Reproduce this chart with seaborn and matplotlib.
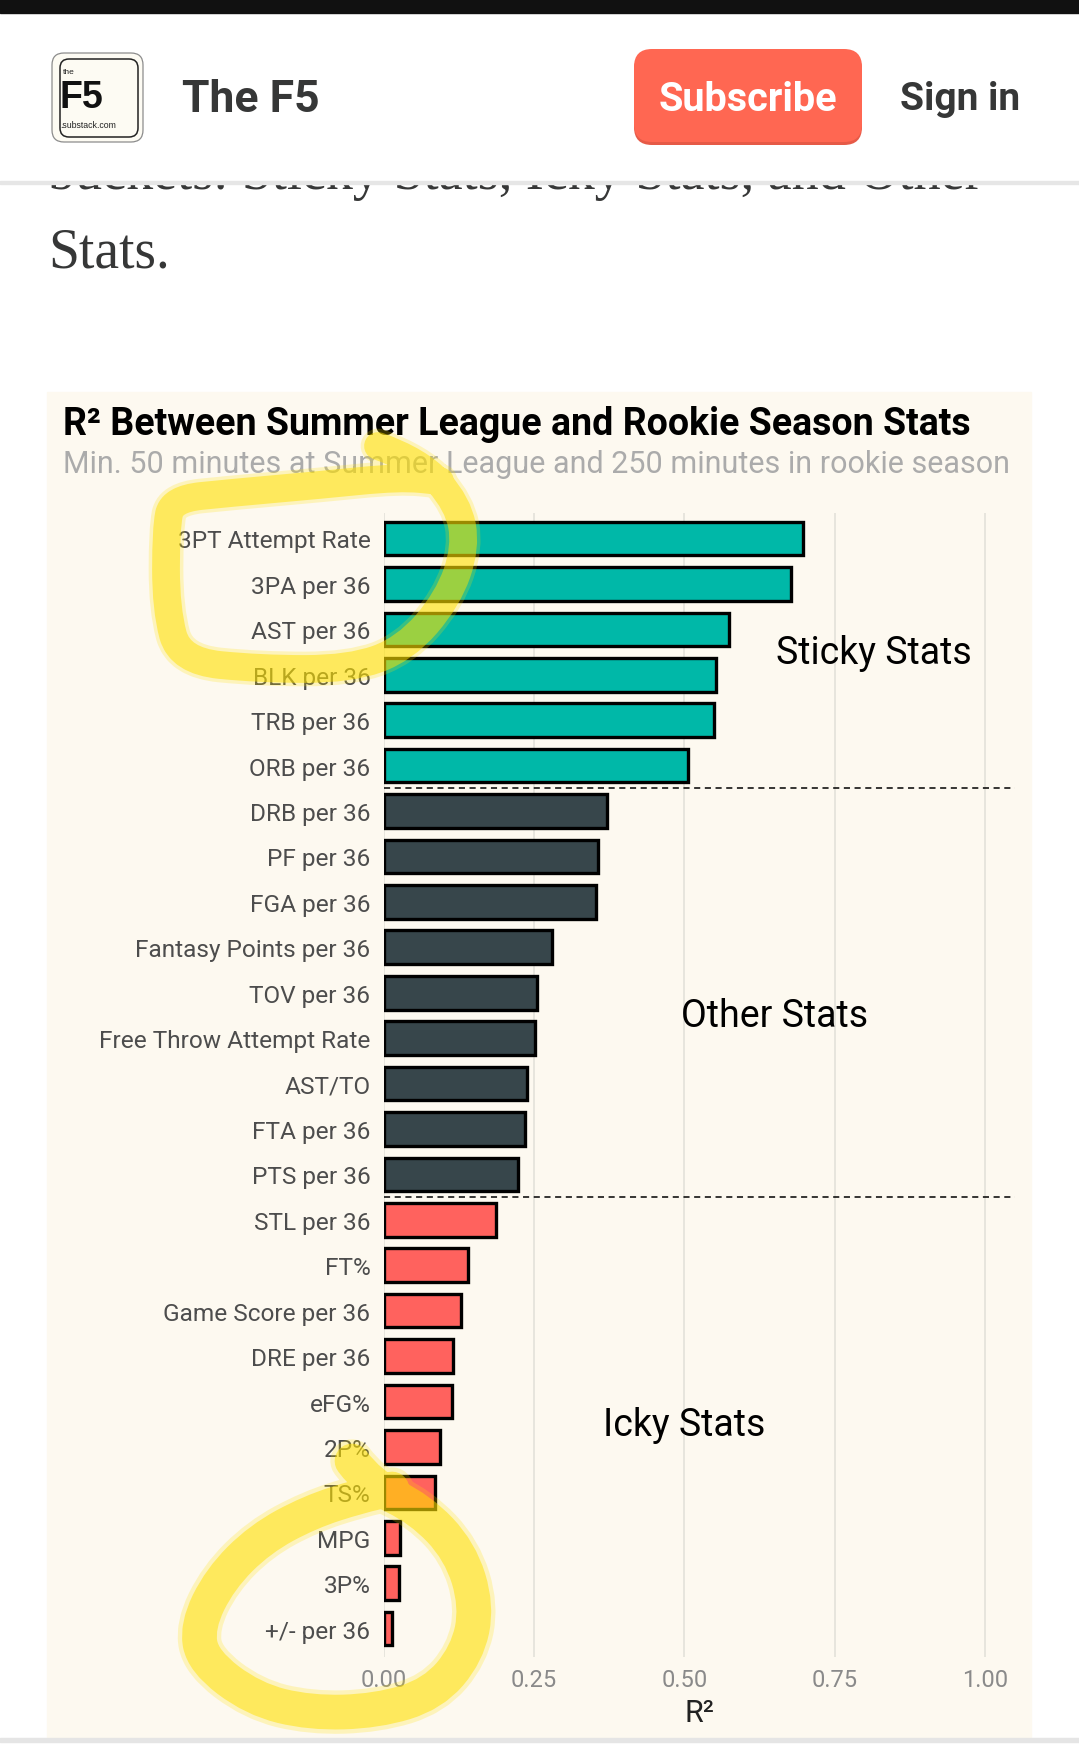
import numpy as np
import pandas as pd
import matplotlib
matplotlib.use('Agg')
import matplotlib.pyplot as plt
import seaborn as sns
from matplotlib.patches import Rectangle, FancyBboxPatch, PathPatch
from matplotlib.path import Path

# data
stats = ['3PT Attempt Rate', '3PA per 36', 'AST per 36', 'BLK per 36', 'TRB per 36',
         'ORB per 36', 'DRB per 36', 'PF per 36', 'FGA per 36', 'Fantasy Points per 36',
         'TOV per 36', 'Free Throw Attempt Rate', 'AST/TO', 'FTA per 36', 'PTS per 36',
         'STL per 36', 'FT%', 'Game Score per 36', 'DRE per 36', 'eFG%', '2P%', 'TS%',
         'MPG', '3P%', '+/- per 36']
r2 = [0.698, 0.678, 0.574, 0.553, 0.550, 0.507, 0.372, 0.357, 0.353, 0.280, 0.255,
      0.251, 0.239, 0.235, 0.224, 0.187, 0.140, 0.129, 0.115, 0.114, 0.094, 0.086,
      0.028, 0.025, 0.014]
groups = ['Sticky'] * 6 + ['Other'] * 9 + ['Icky'] * 10
group_labels = ['Sticky Stats', 'Other Stats', 'Icky Stats']
x_ticks = [0.0, 0.25, 0.5, 0.75, 1.0]

palette = {'Sticky': '#00B8A8', 'Other': '#37464B', 'Icky': '#FF625E'}
cream = '#FDF9F0'

df = pd.DataFrame({'stat': stats, 'r2': r2, 'group': groups})

sns.set_style('white')
plt.rcParams['font.family'] = ['Roboto', 'DejaVu Sans']

W, H = 1079, 1758
fig = plt.figure(figsize=(W / 100, H / 100), dpi=100, facecolor='white')

# page layer in pixel coordinates (y down)
bg = fig.add_axes([0, 0, 1, 1], zorder=0)
bg.set_xlim(0, W)
bg.set_ylim(H, 0)
bg.axis('off')

# article text; the upper line runs under the sticky header
bg.text(48, 189, 'buckets: Sticky Stats, Icky Stats, and Other', fontsize=39,
        family='Liberation Serif', va='baseline', color='#363737', zorder=1)
bg.text(48, 268, 'Stats.', fontsize=40, family='Liberation Serif', va='baseline',
        color='#363737', zorder=1)

# header
bg.add_patch(Rectangle((0, 0), W, 183, color='white', zorder=2))
bg.add_patch(Rectangle((0, 0), W, 14, color='#111111', zorder=3))
bg.add_patch(Rectangle((0, 182), W, 3, color='#E6E6E6', zorder=3))

bg.add_patch(FancyBboxPatch((52, 54), 91, 89, boxstyle='round,pad=0,rounding_size=12',
                            fc='#FDFBF3', ec='#8C8C8C', lw=0.9, zorder=3))
bg.add_patch(FancyBboxPatch((60, 60), 78, 78, boxstyle='round,pad=0,rounding_size=9',
                            fc='none', ec='#222222', lw=1.1, zorder=3))
bg.text(63, 72, 'the', fontsize=6, family='Liberation Sans', va='center', color='#222', zorder=4)
bg.text(60, 108, 'F5', fontsize=27, family='Liberation Sans', weight='bold', va='baseline',
        color='#111', zorder=4)
bg.text(60, 125, '.substack.com', fontsize=6.3, family='Liberation Sans', va='center',
        color='#222', zorder=4)

bg.text(182, 100, 'The F5', fontsize=32, weight='bold', va='center', color='#363737', zorder=4)

bg.add_patch(FancyBboxPatch((634, 53), 228, 93, boxstyle='round,pad=0,rounding_size=18',
                            fc='#E65A47', ec='none', zorder=3))
bg.add_patch(FancyBboxPatch((634, 50), 228, 93, boxstyle='round,pad=0,rounding_size=18',
                            fc='#FF6752', ec='none', zorder=3))
bg.text(748, 100, 'Subscribe', fontsize=28.5, weight='bold', ha='center', va='center',
        color='white', zorder=4)
bg.text(900, 100, 'Sign in', fontsize=28, weight='bold', va='center', color='#363737', zorder=4)

# chart panel
bg.add_patch(Rectangle((47, 393), 984, 1346, color=cream, zorder=1))
bg.add_patch(Rectangle((0, 1739), W, 4, color='#E5E5E5', zorder=1))

bg.text(63, 435, 'R\u00b2 Between Summer League and Rookie Season Stats', fontsize=27,
        weight='bold', va='baseline', color='black', zorder=2)
bg.text(63, 473, 'Min. 50 minutes at Summer League and 250 minutes in rookie season',
        fontsize=22, va='baseline', color='#ABABAB', zorder=2)

# bar chart
ax = fig.add_axes([383.6 / W, 1 - 1657.8 / H, (1015 - 383.6) / W, (1657.8 - 513.7) / H], zorder=1)
ax.set_facecolor('none')
sns.barplot(data=df, x='r2', y='stat', hue='group', palette=palette, dodge=False,
            saturation=1, edgecolor='black', linewidth=2.4, width=0.74, legend=False,
            ax=ax, zorder=3)

ax.set_xlim(0, 1.05)
ax.set_ylim(24.62, -0.568)
ax.set_xticks(x_ticks)
ax.set_xticklabels(['%.2f' % t for t in x_ticks])
ax.xaxis.grid(True, color='#E5E3DC', lw=1.3, zorder=0)
ax.yaxis.grid(False)
ax.set_axisbelow(True)
for s in ax.spines.values():
    s.set_visible(False)
ax.tick_params(axis='y', length=0, pad=9.5, labelsize=17.6, labelcolor='#4D4D4D')
ax.tick_params(axis='x', length=0, pad=8, labelsize=17, labelcolor='#8A8A8A')
ax.set_ylabel('')
ax.set_xlabel('R\u00b2', fontsize=22, color='#222222', labelpad=5)

for yv in [5.5, 14.5]:
    ax.axhline(yv, color='black', lw=1.1, dashes=(4, 3), zorder=4)

ax.text(0.815, 2.5, group_labels[0], fontsize=27, ha='center', va='center', color='black')
ax.text(0.65, 10.5, group_labels[1], fontsize=27, ha='center', va='center', color='black')
ax.text(0.50, 19.5, group_labels[2], fontsize=27, ha='center', va='center', color='black')

# yellow highlighter marks on top of everything
hl = fig.add_axes([0, 0, 1, 1], zorder=5)
hl.set_xlim(0, W)
hl.set_ylim(H, 0)
hl.axis('off')
hl.patch.set_alpha(0)


def stroke(pts, lw):
    pts = np.asarray(pts, float)
    verts = [pts[0]]
    codes = [Path.MOVETO]
    for i in range(1, len(pts) - 1):
        mid = (pts[i] + pts[i + 1]) / 2
        verts += [pts[i], mid]
        codes += [Path.CURVE3, Path.CURVE3]
    verts.append(pts[-1])
    codes.append(Path.LINETO)
    path = Path(verts, codes)
    # soft edge, then the core of the pen
    hl.add_patch(PathPatch(path, fc='none', ec='#FFE100', lw=lw * 1.25, alpha=0.22,
                           capstyle='round', joinstyle='round'))
    hl.add_patch(PathPatch(path, fc='none', ec='#FFE100', lw=lw, alpha=0.5,
                           capstyle='round', joinstyle='round'))


stroke([(378, 447), (420, 462), (458, 505), (466, 548), (448, 600), (405, 650), (350, 670),
        (260, 670), (180, 662), (166, 610), (166, 530), (172, 500), (230, 494), (320, 486),
        (400, 478), (440, 482)], 20)
stroke([(352, 1462), (370, 1486), (420, 1510), (460, 1552), (477, 1607), (467, 1655),
        (433, 1695), (377, 1712), (310, 1714), (253, 1700), (203, 1662), (197, 1627),
        (220, 1580), (260, 1540), (310, 1513), (360, 1497), (392, 1490)], 25)

fig.savefig('out.png', dpi=100, facecolor='white')
